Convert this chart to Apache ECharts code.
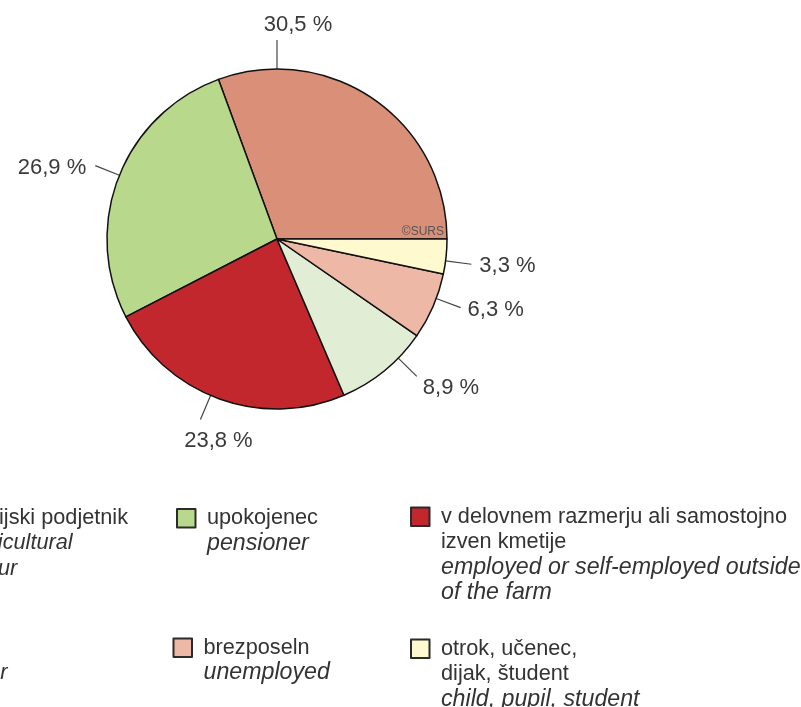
<!DOCTYPE html>
<html><head><meta charset="utf-8">
<script src="https://cdn.jsdelivr.net/npm/echarts@6/dist/echarts.min.js"></script>
<style>html,body{margin:0;padding:0;background:#fff}#c{width:801px;height:707px}</style>
</head><body><div id="c"></div>
<script>
// ---- data ----
const categories = ['kmet, kmetijski podjetnik', 'upokojenec', 'v delovnem razmerju ali samostojno izven kmetije', 'gospodinja', 'brezposeln', 'otrok, učenec, dijak, študent'];
const values = [30.5, 26.9, 23.8, 8.9, 6.3, 3.3];
const colors = ['#DA8F78', '#B8D98B', '#C1272D', '#E2EDD5', '#EDB8A6', '#FFF9D0'];
const legendSl = [['kmet, kmetijski podjetnik'], ['upokojenec'], ['v delovnem razmerju ali samostojno', 'izven kmetije'], ['gospodinja'], ['brezposeln'], ['otrok, učenec,', 'dijak, študent']];
const legendEn = [['farmer, agricultural', 'entrepreneur'], ['pensioner'], ['employed or self-employed outside', 'of the farm'], ['homemaker'], ['unemployed'], ['child, pupil, student']];

// ---- layout ----
const CX = 277, CY = 239, R = 170;
const FONT = 'Liberation Sans, Arial, Helvetica, sans-serif';
const FS = 21.7, LH = 25.3;
const legendPos = [[-138, 504.5], [176, 504.5], [410, 503], [-138, 634], [172.5, 634], [410, 635]];
const italicSize = [21.7, 23.2, 23.2, 21.7, 23.2, 23.2];
// label-line placement (angle in degrees, counter-clockwise from 3 o'clock)
const labelSpec = {
  0: { angle: 90, len: 29, dx: 21, dy: -15, align: 'center' },
  1: { angle: 158, len: 26, dx: -9, dy: 2, align: 'right' },
  2: { angle: 247, len: 26, dx: 18, dy: 22, align: 'center' },
  3: { angle: 315.5, len: 26, dx: 6, dy: 12, align: 'left' },
  4: { angle: 339.5, len: 26, dx: 7, dy: 2, align: 'left' },
  5: { angle: 352.6, len: 26, dx: 8, dy: 2, align: 'left' }
};

const legends = categories.map((name, i) => {
  const n = legendSl[i].length + legendEn[i].length;
  const H = +(n * LH).toFixed(2);
  const txt = legendSl[i].map(s => '{a|' + s + '}').concat(legendEn[i].map(s => '{b|' + s + '}')).join('\n');
  return {
    data: [name], orient: 'vertical', left: legendPos[i][0], top: legendPos[i][1], padding: 0,
    itemWidth: 25, itemHeight: H, selectedMode: false,
    icon: 'path://M0,3.5h18.5v18.5h-18.5z M0,0 M25,' + H,
    itemStyle: { borderColor: '#2b2b2b', borderWidth: 2 },
    formatter: () => txt,
    textStyle: {
      color: '#333', fontFamily: FONT, fontSize: FS,
      rich: {
        a: { color: '#333', fontFamily: FONT, fontSize: FS, lineHeight: LH },
        b: { color: '#333', fontFamily: FONT, fontSize: italicSize[i], lineHeight: LH, fontStyle: 'italic' }
      }
    }
  };
});

const chart = echarts.init(document.getElementById('c'), null, { renderer: 'canvas' });
chart.setOption({
  backgroundColor: '#fff',
  animation: false,
  legend: legends,
  graphic: [{
    type: 'text', right: 801 - 444, top: 226, z: 100,
    style: { text: '©SURS', font: '12px ' + FONT, fill: '#555' }
  }],
  series: [{
    type: 'pie', center: [CX, CY], radius: R, startAngle: 0, clockwise: false,
    avoidLabelOverlap: false, silent: true,
    data: categories.map((n, i) => ({ name: n, value: values[i], itemStyle: { color: colors[i] } })),
    itemStyle: { borderColor: '#111', borderWidth: 1.5 },
    label: {
      show: true, position: 'outside', distanceToLabelLine: 7,
      formatter: p => p.value.toFixed(1).replace('.', ',') + ' %',
      fontFamily: FONT, fontSize: 22, color: '#3a3a3a'
    },
    labelLine: { show: true, length: 26, length2: 0, lineStyle: { color: '#444', width: 1.2 } },
    emphasis: { disabled: true },
    labelLayout: function (p) {
      const s = labelSpec[p.dataIndex];
      if (!s) return;
      const a = s.angle * Math.PI / 180;
      const p0 = [CX + R * Math.cos(a), CY - R * Math.sin(a)];
      const p1 = [CX + (R + s.len) * Math.cos(a), CY - (R + s.len) * Math.sin(a)];
      return { x: p1[0] + s.dx, y: p1[1] + s.dy, align: s.align, verticalAlign: 'middle',
        labelLinePoints: [p0, p1, p1] };
    }
  }]
});
</script>
</body></html>
